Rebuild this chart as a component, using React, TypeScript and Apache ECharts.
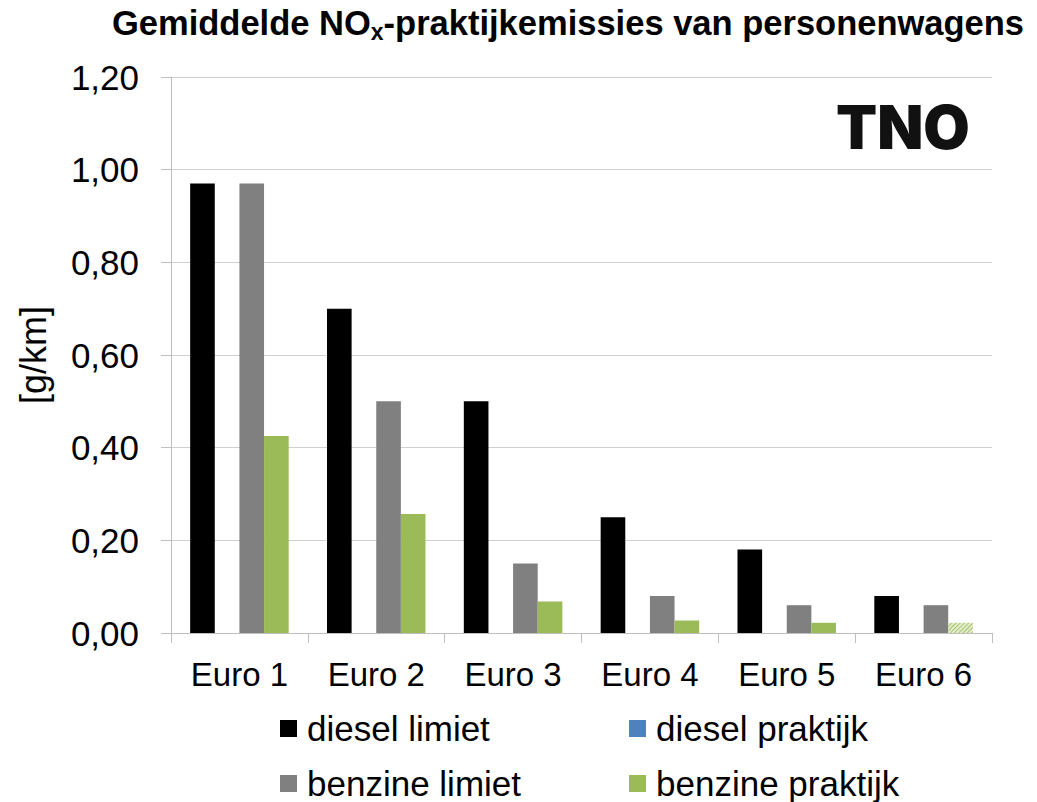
import React, { useEffect, useRef } from "react";
import * as echarts from "echarts";

const categories = ["Euro 1", "Euro 2", "Euro 3", "Euro 4", "Euro 5", "Euro 6"];
const dieselLimiet = [0.97, 0.7, 0.5, 0.25, 0.18, 0.08];
const dieselPraktijk: (number | null)[] = [null, null, null, null, null, null];
const benzineLimiet = [0.97, 0.5, 0.15, 0.08, 0.06, 0.06];
const benzinePraktijk = [0.425, 0.257, 0.068, 0.027, 0.022, 0.022];
const yTicks = [0, 0.2, 0.4, 0.6, 0.8, 1.0, 1.2];
const legendItems = ["diesel limiet", "diesel praktijk", "benzine limiet", "benzine praktijk"];

const FONT = "Liberation Sans, Arial, sans-serif";

export default function App() {
  const ref = useRef<HTMLDivElement>(null);
  useEffect(() => {
    if (!ref.current) return;
    const chart = echarts.init(ref.current, null, { renderer: "svg" });
    const greenData = benzinePraktijk.map((v, i) =>
      i === benzinePraktijk.length - 1
        ? {
            value: v,
            itemStyle: {
              color: "#e3ecce",
              decal: {
                symbol: "rect",
                symbolSize: 1,
                color: "#a9c46c",
                dashArrayX: [1, 0],
                dashArrayY: [1, 2],
                rotation: -Math.PI / 4,
              },
            },
          }
        : v
    );
    const legendPos = [
      { left: 275, top: 706 },
      { left: 624, top: 706 },
      { left: 275, top: 761 },
      { left: 624, top: 761 },
    ];
    const legends = legendItems.map((name, i) => ({
      data: [name],
      orient: "horizontal",
      left: legendPos[i].left,
      top: legendPos[i].top,
      itemWidth: 17,
      itemHeight: 17,
      icon: "rect",
      textStyle: { fontSize: 35, color: "#000", fontFamily: FONT, padding: [0, 0, 0, 5] },
    }));
    const option: any = {
      animation: false,
      textStyle: { fontFamily: FONT },
      title: {
        left: 107,
        top: -3,
        text: "{a|Gemiddelde NO}{s|x}{a|-praktijkemissies van personenwagens}",
        textStyle: {
          rich: {
            a: { fontSize: 34.5, fontWeight: "bold", color: "#000", fontFamily: FONT },
            s: {
              fontSize: 23,
              fontWeight: "bold",
              color: "#000",
              fontFamily: FONT,
              padding: [18, 0, 0, 0],
            },
          },
        },
      },
      grid: { left: 171, right: 45, top: 77, bottom: 169, containLabel: false },
      legend: legends,
      xAxis: {
        type: "category",
        data: categories,
        axisLine: { show: true, lineStyle: { color: "#bfbfbf", width: 1 } },
        axisTick: { show: true, alignWithLabel: false, length: 10, lineStyle: { color: "#bfbfbf" } },
        axisLabel: { fontSize: 33, color: "#000", margin: 25, fontFamily: FONT },
      },
      yAxis: {
        type: "value",
        min: yTicks[0],
        max: yTicks[yTicks.length - 1],
        interval: 0.2,
        name: "[g/km]",
        nameLocation: "middle",
        nameGap: 120,
        nameTextStyle: { fontSize: 36, color: "#000", fontFamily: FONT },
        axisLine: { show: true, lineStyle: { color: "#bfbfbf", width: 1 } },
        axisTick: { show: true, length: 10, lineStyle: { color: "#bfbfbf" } },
        splitLine: { show: true, lineStyle: { color: "#d0d0d0", width: 1 } },
        axisLabel: {
          fontSize: 35,
          color: "#000",
          margin: 32,
          fontFamily: FONT,
          formatter: (v: number) => v.toFixed(2).replace(".", ","),
        },
      },
      series: [
        {
          name: "diesel limiet",
          type: "bar",
          data: dieselLimiet,
          itemStyle: { color: "#000000" },
          barGap: "0%",
          barCategoryGap: "28%",
        },
        {
          name: "diesel praktijk",
          type: "bar",
          data: dieselPraktijk,
          itemStyle: { color: "#4f81bd" },
        },
        {
          name: "benzine limiet",
          type: "bar",
          data: benzineLimiet,
          itemStyle: { color: "#808080" },
        },
        {
          name: "benzine praktijk",
          type: "bar",
          data: greenData,
          itemStyle: { color: "#9bbb59" },
        },
      ],
      graphic: [
        {
          type: "text",
          left: 836,
          top: 97,
          style: {
            text: "TNO",
            fontSize: 60,
            fontWeight: 900,
            fontFamily: "Inter, DejaVu Sans, sans-serif",
            fill: "#111",
          },
        },
      ],
    };
    chart.setOption(option);
    return () => chart.dispose();
  }, []);
  return (
    <div
      ref={ref}
      style={{ position: "fixed", left: 0, top: 0, width: 1037, height: 802, background: "#fff" }}
    />
  );
}
